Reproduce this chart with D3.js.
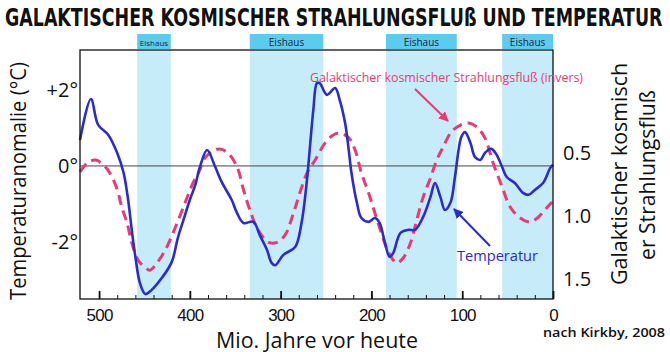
<!DOCTYPE html>
<html>
<head>
<meta charset="utf-8">
<script src="https://cdn.jsdelivr.net/npm/d3@7"></script>
<style>
  body { margin: 0; background: #fff; }
  svg { display: block; }
</style>
</head>
<body>
<script>

// Temperature anomaly (°C), Mio. years before present
const tempAge = [521, 509, 501, 490, 480, 473, 468, 464, 460, 455, 449, 442, 431, 420, 413, 407, 400, 394, 389, 381,
  372, 365, 354, 348, 341, 330, 323, 315, 310, 306, 297, 284, 277, 271, 268, 264, 260, 257, 249, 240,
  235, 229, 225, 222, 216, 211, 203, 196, 191, 185, 180, 176, 168, 159, 152, 143, 135, 130, 124, 119,
  113, 108, 104, 101, 97, 91, 86, 80, 75, 68, 62, 56, 51, 42, 33, 27, 20, 11, 3, 0];
const tempValue = [0.68, 1.76, 1.08, 0.82, 0.34, -0.18, -0.89, -1.68, -2.39, -3.08, -3.37, -3.26, -2.95, -2.53, -1.87, -1.42, -0.89, -0.5, -0.03, 0.42,
  -0.03, -0.42, -0.89, -1.24, -1.5, -1.47, -1.82, -2.21, -2.55, -2.61, -2.34, -2.13, -1.5, -0.37, 0.42, 1.47, 2.18, 2.18, 1.87, 2.05,
  1.74, 1.13, 0.42, -0.18, -0.97, -1.37, -1.47, -1.37, -1.5, -2.03, -2.39, -2.29, -1.76, -1.68, -1.68, -1.34, -0.82, -0.45, -0.82, -1.16,
  -0.97, -0.29, 0.42, 0.76, 0.89, 0.61, 0.24, 0.16, 0.34, 0.45, 0.29, -0.03, -0.29, -0.45, -0.71, -0.76, -0.63, -0.45, -0.05, 0.03];

// Galactic cosmic ray flux (inverted right axis)
const fluxAge = [521, 513, 504, 495, 488, 480, 475, 469, 464, 457, 449, 444, 436, 427, 416, 405, 396, 389, 385, 376,
  367, 358, 348, 341, 334, 325, 313, 304, 295, 286, 279, 271, 262, 251, 242, 235, 225, 218, 211, 203,
  196, 189, 181, 172, 165, 157, 150, 143, 135, 128, 121, 112, 102, 93, 84, 75, 66, 56, 47, 36,
  25, 16, 7, 1];
const fluxValue = [0.65, 0.58, 0.556, 0.595, 0.66, 0.79, 0.93, 1.06, 1.21, 1.35, 1.41, 1.43, 1.37, 1.27, 1.09, 0.89, 0.73, 0.635, 0.556, 0.49,
  0.468, 0.5, 0.61, 0.79, 0.95, 1.11, 1.21, 1.21, 1.15, 0.98, 0.82, 0.66, 0.556, 0.42, 0.357, 0.341, 0.38, 0.476, 0.66, 0.82,
  0.98, 1.135, 1.29, 1.373, 1.333, 1.214, 1.03, 0.85, 0.7, 0.556, 0.452, 0.333, 0.278, 0.262, 0.294, 0.38, 0.58, 0.77, 0.93, 1.016,
  1.048, 1.008, 0.937, 0.889];

// Icehouse periods (start, end in Mio. years)
const iceStart = [458, 334, 184, 56];
const iceEnd = [421, 253, 106, 0];
const iceLabel = ["Eishaus", "Eishaus", "Eishaus", "Eishaus"];

const xMajor = [500, 400, 300, 200, 100, 0];
const xMinor = d3.range(20, 520, 20);
const tempTicks = [-2, 0, 2];
const fluxTicks = [0.5, 1.0, 1.5];

const blue = "#2b2bcf";
const pink = "#ea3a74";
const font = "'Open Sans', 'Noto Sans', sans-serif";

const svg = d3.select("body").append("svg")
    .attr("width", 670)
    .attr("height", 352)
    .style("font-family", font);

// Scales
const x = d3.scaleLinear().domain([521, 0]).range([80, 553]);
const yT = d3.scaleLinear().domain([-3.5, 3.05]).range([299, 50]);
const yF = d3.scaleLinear().domain([0.5, 1.5]).range([153, 279]);

// Arrow heads
const defs = svg.append("defs");
[["arrPink", pink], ["arrBlue", blue]].forEach(([id, c]) => {
    defs.append("marker")
        .attr("id", id)
        .attr("viewBox", "0 0 10 10")
        .attr("refX", 9).attr("refY", 5)
        .attr("markerWidth", 5).attr("markerHeight", 5)
        .attr("orient", "auto")
      .append("path")
        .attr("d", "M0,0 L10,5 L0,10 Z")
        .attr("fill", c);
});

// Title: squeezed horizontally to span the page width
const title = svg.append("text")
    .style("font-family", "'DejaVu Sans Condensed', 'DejaVu Sans', sans-serif")
    .style("font-weight", "bold")
    .style("font-size", "24px")
    .attr("fill", "#111")
    .text("GALAKTISCHER KOSMISCHER STRAHLUNGSFLUß UND TEMPERATUR");
const titleLen = title.node().getComputedTextLength();
title.attr("transform", `translate(5,26) scale(${658 / titleLen},1)`);

// Icehouse bands and label boxes
const bands = svg.append("g");
iceStart.forEach((s, i) => {
    bands.append("rect")
        .attr("x", x(s)).attr("y", 50)
        .attr("width", x(iceEnd[i]) - x(s)).attr("height", 249)
        .attr("fill", "#c6ecf9");
    bands.append("rect")
        .attr("x", x(s)).attr("y", 34)
        .attr("width", x(iceEnd[i]) - x(s)).attr("height", 15)
        .attr("fill", "#5ccbef");
    bands.append("text")
        .attr("x", (x(s) + x(iceEnd[i])) / 2).attr("y", 45.5)
        .attr("text-anchor", "middle")
        .style("font-size", i === 0 ? "8px" : "10px")
        .attr("fill", "#1c2340")
        .text(iceLabel[i]);
});

// Zero line
svg.append("line")
    .attr("x1", 80).attr("x2", 553)
    .attr("y1", yT(0)).attr("y2", yT(0))
    .attr("stroke", "#444").attr("stroke-width", 1);

// Flux (dashed)
svg.append("path")
    .datum(fluxAge.map((a, i) => [a, fluxValue[i]]))
    .attr("fill", "none")
    .attr("stroke", pink)
    .attr("stroke-width", 3)
    .attr("stroke-dasharray", "10,6")
    .attr("d", d3.line().x(d => x(d[0])).y(d => yF(d[1])).curve(d3.curveCatmullRom));

// Temperature
svg.append("path")
    .datum(tempAge.map((a, i) => [a, tempValue[i]]))
    .attr("fill", "none")
    .attr("stroke", blue)
    .attr("stroke-width", 2.6)
    .attr("d", d3.line().x(d => x(d[0])).y(d => yT(d[1])).curve(d3.curveCatmullRom));

// Frame
svg.append("rect")
    .attr("x", 80).attr("y", 50)
    .attr("width", 473).attr("height", 249)
    .attr("fill", "none")
    .attr("stroke", "#111").attr("stroke-width", 1.3);

// X axis: minor and major inward ticks
svg.append("g")
    .attr("transform", "translate(0,299)")
    .call(d3.axisBottom(x).tickValues(xMinor).tickSize(-4).tickFormat(""))
    .call(g => g.select(".domain").remove())
    .call(g => g.selectAll("line").attr("stroke", "#111"));

svg.append("g")
    .attr("transform", "translate(0,299)")
    .call(d3.axisBottom(x).tickValues(xMajor).tickSize(-8).tickPadding(10))
    .call(g => g.select(".domain").remove())
    .call(g => g.selectAll("line").attr("stroke", "#111").attr("stroke-width", 1.8))
    .call(g => g.selectAll("text")
        .style("font-family", "'Liberation Sans', Arial, sans-serif")
        .style("font-size", "17px")
        .style("letter-spacing", "-0.8px")
        .attr("fill", "#111"));

// Left axis labels
svg.append("g")
    .attr("transform", "translate(80,0)")
    .call(d3.axisLeft(yT).tickValues(tempTicks).tickSize(0).tickPadding(2)
        .tickFormat(d => (d > 0 ? "+" : "") + d + "°"))
    .call(g => g.select(".domain").remove())
    .call(g => g.selectAll("text")
        .style("font-family", font)
        .style("font-size", "20px")
        .attr("fill", "#111"));

// Right axis labels
svg.append("g")
    .attr("transform", "translate(553,0)")
    .call(d3.axisRight(yF).tickValues(fluxTicks).tickSize(0).tickPadding(10)
        .tickFormat(d3.format(".1f")))
    .call(g => g.select(".domain").remove())
    .call(g => g.selectAll("text")
        .style("font-family", font)
        .style("font-size", "20px")
        .attr("fill", "#111"));

// Axis titles
svg.append("text")
    .attr("transform", "translate(19,181) rotate(-90)")
    .attr("text-anchor", "middle").attr("dy", "0.35em")
    .attr("textLength", 238).attr("lengthAdjust", "spacingAndGlyphs")
    .style("font-size", "21px").attr("fill", "#111")
    .text("Temperaturanomalie (°C)");

svg.append("text")
    .attr("transform", "translate(620,174) rotate(-90)")
    .attr("text-anchor", "middle").attr("dy", "0.35em")
    .attr("textLength", 222).attr("lengthAdjust", "spacingAndGlyphs")
    .style("font-size", "21px").attr("fill", "#111")
    .text("Galaktischer kosmisch");

svg.append("text")
    .attr("transform", "translate(648,175) rotate(-90)")
    .attr("text-anchor", "middle").attr("dy", "0.35em")
    .attr("textLength", 170).attr("lengthAdjust", "spacingAndGlyphs")
    .style("font-size", "21px").attr("fill", "#111")
    .text("er Strahlungsfluß");

svg.append("text")
    .attr("x", 317).attr("y", 347.5)
    .attr("text-anchor", "middle")
    .attr("textLength", 202).attr("lengthAdjust", "spacingAndGlyphs")
    .style("font-size", "22px").attr("fill", "#111")
    .text("Mio. Jahre vor heute");

svg.append("text")
    .attr("x", 665).attr("y", 337)
    .attr("text-anchor", "end")
    .attr("textLength", 122).attr("lengthAdjust", "spacingAndGlyphs")
    .style("font-size", "12px").style("font-weight", "600").attr("fill", "#111")
    .text("nach Kirkby, 2008");

// Annotations
svg.append("text")
    .attr("x", 310).attr("y", 82)
    .attr("textLength", 273).attr("lengthAdjust", "spacingAndGlyphs")
    .style("font-size", "12px").attr("fill", pink)
    .text("Galaktischer kosmischer Strahlungsfluß (invers)");

svg.append("line")
    .attr("x1", 415).attr("y1", 89).attr("x2", 448).attr("y2", 121)
    .attr("stroke", pink).attr("stroke-width", 2)
    .attr("marker-end", "url(#arrPink)");

svg.append("text")
    .attr("x", 457).attr("y", 261)
    .attr("textLength", 81).attr("lengthAdjust", "spacingAndGlyphs")
    .style("font-size", "15px").attr("fill", blue)
    .text("Temperatur");

svg.append("line")
    .attr("x1", 490).attr("y1", 246).attr("x2", 454).attr("y2", 209)
    .attr("stroke", blue).attr("stroke-width", 2)
    .attr("marker-end", "url(#arrBlue)");

</script>
</body>
</html>
